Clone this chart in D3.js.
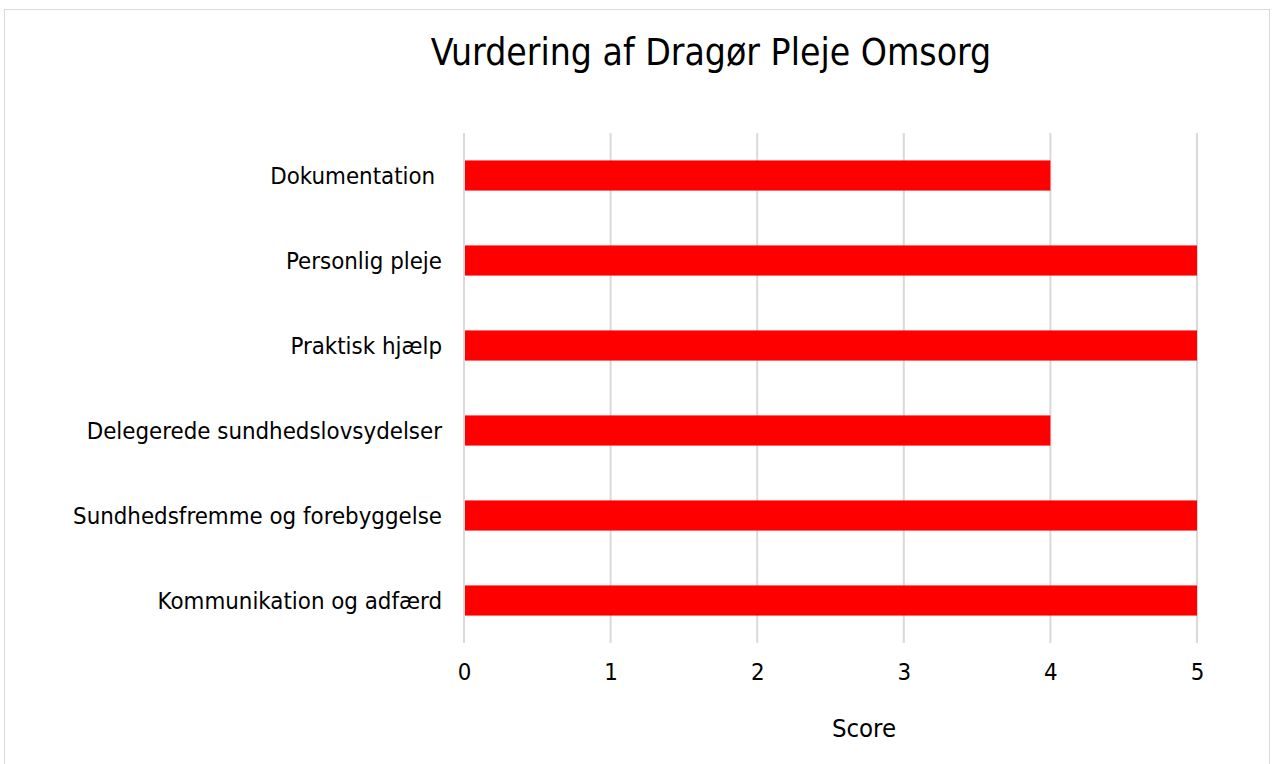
<!DOCTYPE html>
<html><head><meta charset="utf-8">
<script src="https://cdn.jsdelivr.net/npm/d3@7"></script>
<style>body{margin:0;background:#fff;} text{font-family:"DejaVu Sans Condensed","DejaVu Sans",sans-serif;fill:#000;white-space:pre;}</style>
</head><body><svg id="c" width="1274" height="764"></svg>
<script>
const categories = ["Dokumentation ", "Personlig pleje", "Praktisk hjælp", "Delegerede sundhedslovsydelser", "Sundhedsfremme og forebyggelse", "Kommunikation og adfærd"];
const scores = [4, 5, 5, 4, 5, 5];
const tickValues = [0, 1, 2, 3, 4, 5];
const title = "Vurdering af Dragør Pleje Omsorg";
const xTitle = "Score";

const svg = d3.select("#c");
svg.append("rect").attr("x",4.5).attr("y",9.5).attr("width",1265).attr("height",760)
  .attr("fill","#fff").attr("stroke","#d9d9d9").attr("stroke-width",1);

const x = d3.scaleLinear().domain([0,5]).range([464,1197]);
const y = d3.scaleBand().domain(categories).range([133,643]).paddingInner(0.645).paddingOuter(0.3225);

svg.append("g").selectAll("line").data(tickValues).join("line")
  .attr("x1",d=>x(d)).attr("x2",d=>x(d)).attr("y1",133).attr("y2",643)
  .attr("stroke","#d9d9d9").attr("stroke-width",2);

svg.append("g").selectAll("rect").data(categories).join("rect")
  .attr("x",x(0)+1).attr("y",d=>y(d)).attr("height",y.bandwidth())
  .attr("width",(d,i)=>x(scores[i])-x(0)-1).attr("fill","#ff0000");

const ya = svg.append("g").attr("transform",`translate(${x(0)-22},0)`)
  .call(d3.axisLeft(y).tickSize(0).tickPadding(0));
ya.select(".domain").remove();
ya.selectAll("text").style("font-size","23.8px").attr("dy","0.35em");

const xa = svg.append("g").attr("transform","translate(0,663)")
  .call(d3.axisBottom(x).tickValues(tickValues).tickFormat(d3.format("d")).tickSize(0).tickPadding(0));
xa.select(".domain").remove();
xa.selectAll("text").style("font-size","23.8px").attr("dy","0.71em");

svg.append("text").attr("x",711).attr("y",52).attr("text-anchor","middle").attr("dy","0.35em")
  .style("font-size","37px").text(title);
svg.append("text").attr("x",864).attr("y",728).attr("text-anchor","middle").attr("dy","0.35em")
  .style("font-size","25.5px").text(xTitle);
</script></body></html>
